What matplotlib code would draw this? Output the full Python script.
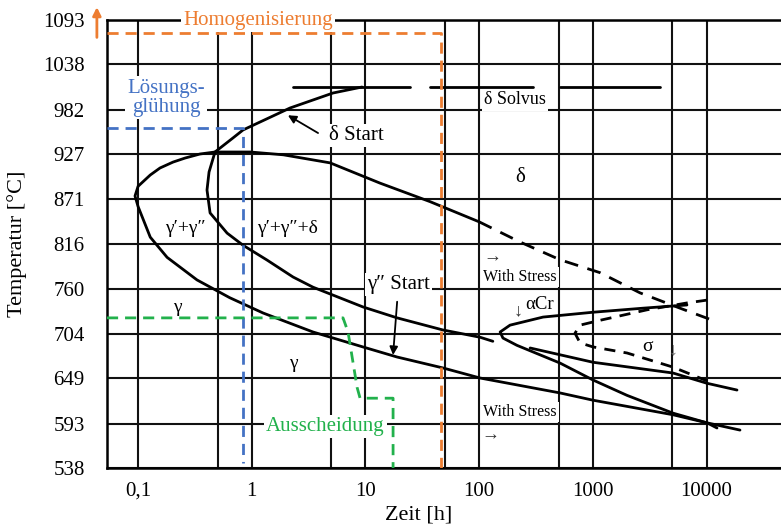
import numpy as np
import matplotlib.pyplot as plt
from matplotlib.ticker import NullFormatter

# Achsen: Zeit [h] (log) und Temperatur [°C]
temp_ticks = [538, 593, 649, 704, 760, 816, 871, 927, 982, 1038, 1093]
time_ticks = [0.1, 1, 10, 100, 1000, 10000]
time_labels = ['0,1', '1', '10', '100', '1000', '10000']
time_minor = [0.5, 5, 50, 500, 5000]
t_min, t_max = 0.0533, 45200
T_min, T_max = 538, 1093

# gamma' + gamma'' C-Kurve (links)
a_t = [100, 37, 13.4, 4.9, 1.9, 0.97, 0.475, 0.35, 0.259, 0.203, 0.156, 0.128, 0.1, 0.094,
       0.1, 0.128, 0.18, 0.33, 0.64, 1.26, 3.46, 9.5, 19, 48, 102, 515, 1005, 5070, 10090, 19700]
a_T = [843, 868, 891, 916, 926, 929.5, 929.5, 927, 922, 917, 909.7, 901, 887, 875,
       862, 824, 799, 771, 749, 730, 706.5, 688, 675.5, 662, 649.5, 631, 622, 604, 594, 585]
# Fortsetzung mit Spannung (gestrichelt)
a_dash_t = [100, 229, 515, 1157, 2600, 5850, 12360]
a_dash_T = [843, 818, 796, 780, 755, 736, 719]

# gamma'+gamma''+delta C-Kurve (delta Start / gamma'' Start)
b_t = [9.33, 5.19, 2.17, 0.838, 0.685, 0.475, 0.421, 0.404, 0.43, 0.607, 0.838, 1.36,
       2.31, 3.46, 9.53, 19.0, 48.1, 102, 132]
b_T = [1010, 1002.6, 984, 956.8, 947, 929.5, 904.7, 882.4, 854, 829, 814, 795.7,
       774.6, 762, 737.5, 724, 709, 700, 695]

# delta Solvus (unterbrochen)
solvus_T = 1010
solvus_start = [2.31, 37, 515]
solvus_end = [24.7, 298, 3900]

# alpha-Cr
acr_t = [6730, 2760, 1005, 365, 187, 153, 162, 215, 515, 1005, 2000, 5070, 10090, 12360]
acr_T = [740, 736, 731, 725, 715, 706.5, 699, 690, 668, 647, 628, 606, 594, 587.6]

# sigma
sig_t = [281, 1005, 5070, 10090, 18540]
sig_T = [686.7, 669, 655.7, 643, 634.6]
sig_dash_t = [10090, 6730, 3000, 1157, 772, 697, 772, 1005, 2000, 5070, 11400]
sig_dash_T = [746, 742.5, 734, 721, 715, 705, 693, 688, 680.5, 663, 643]

# Waermebehandlungen
homog_t = [t_min, 46.2, 46.2]
homog_T = [1077, 1077, 538]
loes_t = [t_min, 0.84, 0.84]
loes_T = [959, 959, 544]
aus_t = [t_min, 6.35, 7.03, 8.44, 8.97, 17.5, 17.5]
aus_T = [724, 724, 706.5, 638, 624.5, 624.5, 538]

orange = '#ED7D31'
blue = '#4472C4'
green = '#22B14C'

plt.rcParams['font.family'] = ['Liberation Serif', 'DejaVu Serif']

fig = plt.figure(figsize=(7.81, 5.31), dpi=100)
ax = fig.add_axes([0.137, 0.1186, 0.863, 0.8437])
ax.set_xscale('log')
ax.set_xlim(t_min, t_max)
ax.set_ylim(T_min, T_max)

ax.set_xticks(time_ticks, time_labels)
ax.set_xticks(time_minor, minor=True)
ax.xaxis.set_minor_formatter(NullFormatter())
ax.set_yticks(temp_ticks)
ax.tick_params(which='both', length=0, labelsize=15)
ax.tick_params(axis='x', pad=10)
ax.tick_params(axis='y', pad=16)
ax.grid(True, which='major', color='#111111', lw=1.5)
ax.grid(True, which='minor', axis='x', color='#111111', lw=1.5)
for s in ['left', 'bottom', 'top']:
    ax.spines[s].set_linewidth(1.8)
ax.spines['right'].set_visible(False)

ax.set_xlabel('Zeit [h]', fontsize=16)
ax.xaxis.set_label_coords(0.463, -0.083)
ax.set_ylabel('Temperatur [°C]', fontsize=16)
ax.yaxis.set_label_coords(-0.118, 0.5)

kw = dict(color='black', lw=2, solid_joinstyle='round', solid_capstyle='round', zorder=3)
ax.plot(a_t, a_T, **kw)
ax.plot(b_t, b_T, **kw)
ax.plot(acr_t, acr_T, **kw)
ax.plot(sig_t, sig_T, **kw)
for t0, t1 in zip(solvus_start, solvus_end):
    ax.plot([t0, t1], [solvus_T, solvus_T], **kw)
ax.plot(a_dash_t, a_dash_T, color='black', lw=2, ls=(0, (5, 3.5)), zorder=3)
ax.plot(sig_dash_t, sig_dash_T, color='black', lw=2, ls=(0, (4, 3)), zorder=3)

dkw = dict(lw=2, ls=(0, (4, 2.5)), zorder=4)
ax.plot(homog_t, homog_T, color=orange, **dkw)
ax.plot(loes_t, loes_T, color=blue, **dkw)
ax.plot(aus_t, aus_T, color=green, **dkw)

box = dict(facecolor='white', edgecolor='none', pad=1.5)
ax.text(1.135, 1093, 'Homogenisierung', color=orange, fontsize=15, ha='center', va='center',
        bbox=box, zorder=6)
ax.text(0.176, 997, 'Lösungs-\nglühung', color=blue, fontsize=15, ha='center', va='center',
        linespacing=1.0, bbox=box, zorder=6)
ax.text(4.42, 589, 'Ausscheidung', color=green, fontsize=15, ha='center', va='center',
        bbox=box, zorder=6)
ax.annotate('', xy=(-0.015, 1.035), xytext=(-0.015, 0.955), xycoords='axes fraction',
            arrowprops=dict(arrowstyle='-|>', color=orange, lw=2, mutation_scale=12),
            annotation_clip=False)

ax.text(207, 994, 'δ Solvus', fontsize=13, ha='center', va='center', bbox=box, zorder=6)
ax.text(229, 898, 'δ', fontsize=15, ha='center', va='center', zorder=6)
ax.text(0.259, 835, 'γ′+γ″', fontsize=14, ha='center', va='center', bbox=box, zorder=6)
ax.text(2.08, 835, 'γ′+γ″+δ', fontsize=14, ha='center', va='center', bbox=box, zorder=6)
ax.text(0.22, 737, 'γ', fontsize=14, ha='center', va='center', zorder=6)
ax.text(2.31, 668, 'γ', fontsize=14, ha='center', va='center', zorder=6)

akw = dict(arrowstyle='-|>', color='black', lw=1.3, mutation_scale=12)
ax.annotate('', xy=(2.08, 975), xytext=(3.83, 953),
            arrowprops=dict(**akw, shrinkA=0, shrinkB=0), zorder=6)
ax.text(8.26, 950, 'δ Start', fontsize=15, ha='center', va='center', bbox=box, zorder=6)
ax.annotate('', xy=(17.5, 678), xytext=(19.0, 744),
            arrowprops=dict(**akw, shrinkA=0, shrinkB=0), zorder=6)
ax.text(19.4, 765, 'γ″ Start', fontsize=15, ha='center', va='center', bbox=box, zorder=6)

ax.text(229, 775, 'With Stress', fontsize=11.5, ha='center', va='center', bbox=box, zorder=6)
ax.text(132, 799, '→', fontsize=13, ha='center', va='center', color='#333333', zorder=6)
ax.text(229, 607, 'With Stress', fontsize=11.5, ha='center', va='center', bbox=box, zorder=6)
ax.text(125, 579, '→', fontsize=13, ha='center', va='center', color='#333333', zorder=6)
ax.text(343, 740, 'αCr', fontsize=13.5, ha='center', va='center', zorder=6)
ax.text(220, 733, '↓', fontsize=13, ha='center', va='center', color='#333333', zorder=6)
ax.text(3000, 688, 'σ', fontsize=14, ha='center', va='center', zorder=6)
ax.text(5070, 684, '↓', fontsize=13, ha='center', va='center', color='#777777', zorder=6)

fig.savefig('out.png', dpi=100)
